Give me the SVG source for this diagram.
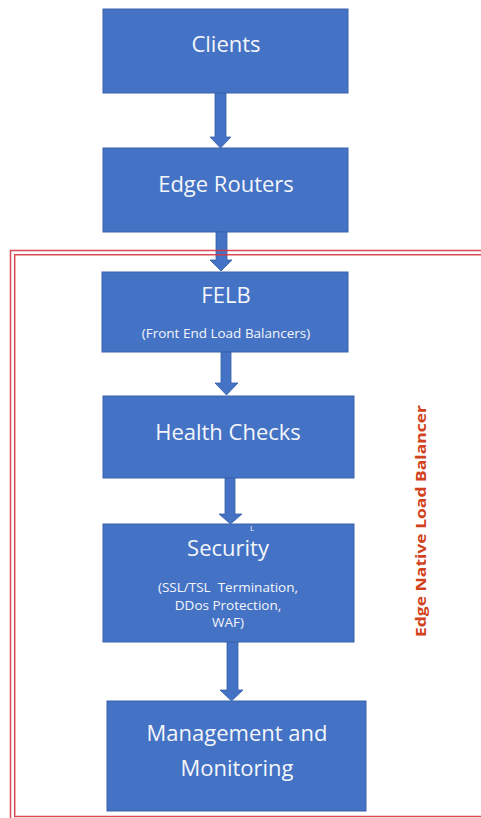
<svg xmlns="http://www.w3.org/2000/svg" width="481" height="818" viewBox="0 0 481 818">
  <style>
    .box { fill: #4472c4; stroke: #3a62ab; stroke-width: 1; }
    .arrow { fill: #4472c4; stroke: #3560a8; stroke-width: 0.8; }
    .label { font-family: "Open Sans", "Noto Sans", sans-serif; fill: #f4f6fb; text-anchor: middle; }
    .big { font-size: 22px; }
    .small { font-size: 13.5px; }
    .frame { fill: none; stroke: #d9363e; stroke-width: 1.5; opacity: 0.9; }
    .side { font-family: "Open Sans", "Liberation Sans", sans-serif; font-weight: bold; font-size: 15px; fill: #d2421c; text-anchor: middle; }
  </style>

  <!-- nodes -->
  <g id="clients">
    <rect class="box" x="103" y="9" width="245" height="84"/>
    <text class="label big" x="226" y="52">Clients</text>
  </g>
  <g id="edge-routers">
    <rect class="box" x="103" y="148" width="245" height="84"/>
    <text class="label big" x="226" y="192">Edge Routers</text>
  </g>
  <g id="felb">
    <rect class="box" x="102" y="272" width="246" height="80"/>
    <text class="label big" x="226" y="303">FELB</text>
    <text class="label small" x="226" y="338">(Front End Load Balancers)</text>
  </g>
  <g id="health-checks">
    <rect class="box" x="103" y="396" width="251" height="82"/>
    <text class="label big" x="228" y="440">Health Checks</text>
  </g>
  <g id="security">
    <rect class="box" x="103" y="524" width="251" height="118"/>
    <text class="label" x="252" y="531" style="font-size:8px">L</text>
    <text class="label big" x="228" y="556">Security</text>
    <text class="label small" x="228" y="592" xml:space="preserve">(SSL/TSL  Termination,</text>
    <text class="label small" x="228" y="610">DDos Protection,</text>
    <text class="label small" x="228" y="627">WAF)</text>
  </g>
  <g id="management">
    <rect class="box" x="107" y="701" width="259" height="110"/>
    <text class="label big" x="237" y="741">Management and</text>
    <text class="label big" x="237" y="776">Monitoring</text>
  </g>

  <!-- connectors -->
  <g id="connectors">
    <path class="arrow" d="M215,93 H226 V137 H231 L220.5,148 L210,137 H215 Z"/>
    <path class="arrow" d="M216,232 H227 V260 H232 L221,271 L210,260 H216 Z"/>
    <path class="arrow" d="M221,352 H231 V383 H238 L226.5,395 L215,383 H221 Z"/>
    <path class="arrow" d="M225,478 H235 V514 H242 L230.5,524 L219,514 H225 Z"/>
    <path class="arrow" d="M227,642 H238 V690 H243 L231.5,701 L220,690 H227 Z"/>
  </g>

  <!-- edge load balancer boundary (double red rule) -->
  <g id="boundary">
    <path class="frame" d="M481,250.5 H10.5 V818"/>
    <path class="frame" d="M481,254.7 H14.7 V816.5 H481"/>
    <text class="side" transform="translate(426 521) rotate(-90)" textLength="232" lengthAdjust="spacingAndGlyphs">Edge Native Load Balancer</text>
  </g>
</svg>
